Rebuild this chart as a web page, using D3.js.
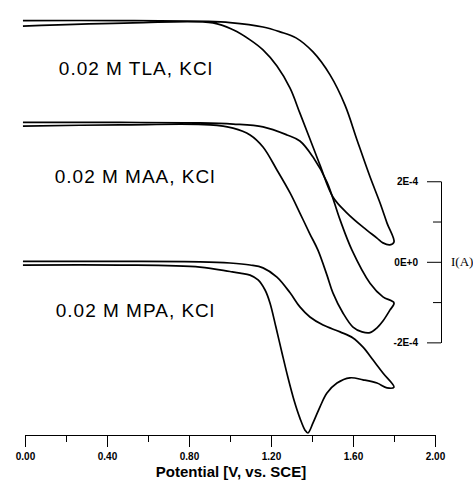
<!DOCTYPE html>
<html>
<head>
<meta charset="utf-8">
<script src="https://cdn.jsdelivr.net/npm/d3@7"></script>
<style>
  html, body { margin: 0; padding: 0; background: #fff; }
  svg { display: block; }
  .axis text { font-family: "Liberation Sans", Arial, sans-serif; font-weight: bold; font-size: 10px; fill: #000; }
  .axis path, .axis line { stroke: #000; stroke-width: 1; }
  .cv { fill: none; stroke: #000; stroke-width: 1.7; stroke-linejoin: round; }
  .label { font-family: "Liberation Sans", Arial, sans-serif; font-size: 19px; letter-spacing: 1px; }
</style>
</head>
<body>
<svg id="chart"></svg>
<script>
// Voltamperogramas ciclicos, corriente en unidades de 1E-4 A

// TLA
const tlaForwardV = [-0.01, 0.463, 0.888, 1.000, 1.161, 1.244, 1.322, 1.405, 1.488, 1.561, 1.620, 1.683, 1.732, 1.766, 1.800];
const tlaForwardI = [5.99, 5.99, 5.97, 5.94, 5.83, 5.71, 5.56, 5.21, 4.64, 3.89, 3.02, 2.11, 1.46, 0.96, 0.49];
const tlaReverseV = [1.800, 1.780, 1.746, 1.717, 1.649, 1.571, 1.502, 1.439, 1.390, 1.341, 1.293, 1.229, 1.161, 1.098, 1.015, 0.917, 0.527, -0.01];
const tlaReverseI = [0.49, 0.42, 0.47, 0.59, 0.86, 1.21, 1.61, 2.40, 3.05, 3.69, 4.31, 4.86, 5.26, 5.51, 5.76, 5.93, 5.93, 5.85];

// MAA
const maaForwardV = [-0.01, 0.463, 0.854, 1.015, 1.161, 1.278, 1.341, 1.405, 1.473, 1.537, 1.595, 1.683, 1.746, 1.800];
const maaForwardI = [3.46, 3.46, 3.45, 3.42, 3.35, 3.15, 3.00, 2.60, 1.98, 1.04, 0.29, -0.53, -0.87, -1.02];
const maaReverseV = [1.800, 1.780, 1.746, 1.717, 1.683, 1.644, 1.600, 1.551, 1.502, 1.473, 1.429, 1.390, 1.341, 1.293, 1.229, 1.161, 1.098, 1.015, 0.902, 0.463, -0.01];
const maaReverseI = [-1.02, -1.20, -1.47, -1.64, -1.76, -1.74, -1.62, -1.27, -0.77, -0.33, 0.29, 0.69, 1.21, 1.71, 2.28, 2.85, 3.15, 3.32, 3.40, 3.40, 3.37];

// MPA
const mpaForwardV = [-0.01, 0.463, 0.854, 1.000, 1.098, 1.161, 1.229, 1.293, 1.341, 1.390, 1.454, 1.537, 1.600, 1.649, 1.698, 1.746, 1.800];
const mpaForwardI = [0.01, 0.01, 0.00, -0.03, -0.08, -0.15, -0.38, -0.77, -1.12, -1.37, -1.57, -1.74, -1.89, -2.12, -2.44, -2.76, -3.11];
const mpaReverseV = [1.800, 1.766, 1.717, 1.649, 1.585, 1.522, 1.473, 1.439, 1.405, 1.380, 1.366, 1.341, 1.312, 1.283, 1.254, 1.224, 1.195, 1.171, 1.137, 1.098, 1.049, 1.000, 0.854, 0.463, -0.01];
const mpaReverseI = [-3.11, -3.13, -3.01, -2.93, -2.88, -3.01, -3.26, -3.60, -4.00, -4.25, -4.18, -3.88, -3.43, -2.88, -2.27, -1.62, -1.02, -0.70, -0.45, -0.33, -0.28, -0.24, -0.13, -0.08, -0.08];

// Etiquetas
const labelTexts = ["0.02 M TLA, KCl", "0.02 M MAA, KCl", "0.02 M MPA, KCl"];
const labelV = [0.165, 0.145, 0.15];
const labelI = [4.64, 1.96, -1.36];

// Ejes
const xMajorTicks = [0.00, 0.40, 0.80, 1.20, 1.60, 2.00];
const xMinorTicks = [0.20, 0.60, 1.00, 1.40, 1.80];
const iMajorTicks = [-2, 0, 2];
const iMinorTicks = [-1, 1];
const xTitle = "Potential [V, vs. SCE]";
const iTitle = "I(A)";

const width = 473, height = 487;
const margin = { top: 0, right: 38, bottom: 52, left: 25 };

const svg = d3.select("#chart").attr("width", width).attr("height", height);

const x = d3.scaleLinear().domain([0, 2]).range([margin.left, width - margin.right]);
const y = d3.scaleLinear().domain([-4.3, 6.5]).range([height - margin.bottom, margin.top]);

// juntar ida y vuelta en una sola trayectoria
function ciclo(fv, fi, rv, ri) {
    const pts = fv.map((v, k) => ({ v: v, i: fi[k] }));
    rv.forEach((v, k) => { if (k > 0) pts.push({ v: v, i: ri[k] }); });
    return pts;
}

const ciclos = [
    ciclo(tlaForwardV, tlaForwardI, tlaReverseV, tlaReverseI),
    ciclo(maaForwardV, maaForwardI, maaReverseV, maaReverseI),
    ciclo(mpaForwardV, mpaForwardI, mpaReverseV, mpaReverseI)
];

const line = d3.line()
    .x(d => x(d.v))
    .y(d => y(d.i))
    .curve(d3.curveCatmullRom.alpha(0.5));

svg.selectAll(".cv")
    .data(ciclos)
    .enter()
    .append("path")
    .attr("class", "cv")
    .attr("d", line);

svg.selectAll(".label")
    .data(labelTexts)
    .enter()
    .append("text")
    .attr("class", "label")
    .attr("x", (d, k) => x(labelV[k]))
    .attr("y", (d, k) => y(labelI[k]))
    .text(d => d);

// eje X
const xAxisY = height - margin.bottom;
svg.append("g")
    .attr("class", "axis")
    .attr("transform", `translate(0,${xAxisY})`)
    .call(d3.axisBottom(x).tickValues(xMinorTicks).tickSize(7).tickSizeOuter(0).tickFormat(""));

svg.append("g")
    .attr("class", "axis")
    .attr("transform", `translate(0,${xAxisY})`)
    .call(d3.axisBottom(x).tickValues(xMajorTicks).tickSize(12).tickSizeOuter(0).tickPadding(6)
        .tickFormat(d3.format(".2f")));

svg.append("text")
    .attr("x", x(1.0) + 1)
    .attr("y", 477)
    .attr("text-anchor", "middle")
    .style("font-family", "'Liberation Sans', Arial, sans-serif")
    .style("font-weight", "bold")
    .style("font-size", "15px")
    .text(xTitle);

// barra de escala de corriente
const barX = 441;
const iBar = d3.scaleLinear().domain([-2, 2]).range([y(-2), y(2)]);

svg.append("g")
    .attr("class", "axis")
    .attr("transform", `translate(${barX},0)`)
    .call(d3.axisLeft(iBar).tickValues(iMinorTicks).tickSize(8).tickSizeOuter(0).tickFormat(""));

svg.append("g")
    .attr("class", "axis")
    .attr("transform", `translate(${barX},0)`)
    .call(d3.axisLeft(iBar).tickValues(iMajorTicks).tickSize(14).tickSizeOuter(0).tickPadding(9)
        .tickFormat(d => d3.format(".0e")(d * 1e-4).toUpperCase().replace("\u2212", "-")));

svg.append("text")
    .attr("x", barX + 10)
    .attr("y", y(0))
    .attr("dy", "0.35em")
    .style("font-family", "'Liberation Serif', 'Times New Roman', serif")
    .style("font-size", "13px")
    .text(iTitle);
</script>
</body>
</html>
